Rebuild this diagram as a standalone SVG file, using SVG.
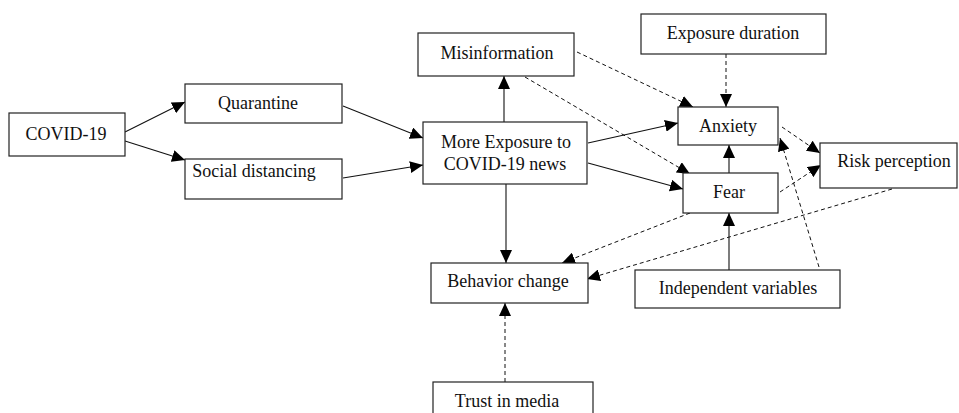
<svg xmlns="http://www.w3.org/2000/svg" width="959" height="413" viewBox="0 0 959 413">
<style>
.box{fill:#fff;stroke:#222;stroke-width:1.2}
.t{font-family:"Liberation Serif","Times New Roman",serif;font-size:18px;fill:#111;text-anchor:middle}
.s{fill:none;stroke:#111;stroke-width:1.1;marker-end:url(#ah)}
.d{fill:none;stroke:#111;stroke-width:1;stroke-dasharray:4 3;marker-end:url(#ah)}
</style>
<defs>
<marker id="ah" markerUnits="userSpaceOnUse" markerWidth="14" markerHeight="12" viewBox="0 0 14 12" refX="13" refY="6" orient="auto">
<path d="M0,0 L13,6 L0,12 Z" fill="#000"/>
</marker>
</defs>
<rect width="959" height="413" fill="#fff"/>
<g id="connectors">
<line class="s" x1="125" y1="132" x2="185" y2="102"/>
<line class="s" x1="125" y1="141" x2="185" y2="160"/>
<line class="s" x1="343" y1="106" x2="423" y2="138"/>
<line class="s" x1="343" y1="178" x2="423" y2="165"/>
<line class="s" x1="504" y1="122" x2="504" y2="76"/>
<line class="s" x1="506" y1="184" x2="506" y2="263"/>
<line class="s" x1="588" y1="143" x2="678" y2="123"/>
<line class="s" x1="588" y1="163" x2="683" y2="189"/>
<line class="s" x1="729" y1="173" x2="729" y2="145"/>
<line class="s" x1="729" y1="270" x2="729" y2="213"/>
<line class="d" x1="726" y1="54" x2="726" y2="107"/>
<line class="d" x1="577" y1="52" x2="693" y2="107"/>
<line class="d" x1="525" y1="77" x2="690" y2="174"/>
<line class="d" x1="782" y1="127" x2="820" y2="153"/>
<line class="d" x1="780" y1="192" x2="821" y2="165"/>
<line class="d" x1="819" y1="267" x2="780" y2="138"/>
<line class="d" x1="690" y1="213" x2="562" y2="263"/>
<line class="d" x1="892" y1="189" x2="587" y2="279"/>
<line class="d" x1="505" y1="382" x2="505" y2="303"/>
</g>
<g id="covid"><rect class="box" x="9" y="113" width="116" height="43"/><text class="t" x="66" y="140">COVID-19</text></g>
<g id="quarantine"><rect class="box" x="185" y="84" width="157" height="39"/><text class="t" x="258" y="109">Quarantine</text></g>
<g id="social"><rect class="box" x="185" y="159" width="157" height="40"/><text class="t" x="254" y="177">Social distancing</text></g>
<g id="exposure"><rect class="box" x="423" y="122" width="164" height="62"/><text class="t" x="506" y="148">More Exposure to</text><text class="t" x="505" y="170">COVID-19 news</text></g>
<g id="misinfo"><rect class="box" x="418" y="33" width="156" height="43"/><text class="t" x="497" y="59">Misinformation</text></g>
<g id="duration"><rect class="box" x="641" y="14" width="185" height="40"/><text class="t" x="733" y="39">Exposure duration</text></g>
<g id="anxiety"><rect class="box" x="678" y="107" width="100" height="38"/><text class="t" x="728" y="132">Anxiety</text></g>
<g id="fear"><rect class="box" x="683" y="173" width="95" height="40"/><text class="t" x="729" y="198">Fear</text></g>
<g id="risk"><rect class="box" x="820" y="143" width="137" height="45"/><text class="t" x="894" y="167">Risk perception</text></g>
<g id="behavior"><rect class="box" x="431" y="263" width="157" height="40"/><text class="t" x="508" y="287">Behavior change</text></g>
<g id="independent"><rect class="box" x="635" y="270" width="205" height="38"/><text class="t" x="738" y="294">Independent variables</text></g>
<g id="trust"><rect class="box" x="433" y="382" width="160" height="40"/><text class="t" x="507" y="407">Trust in media</text></g>
</svg>
